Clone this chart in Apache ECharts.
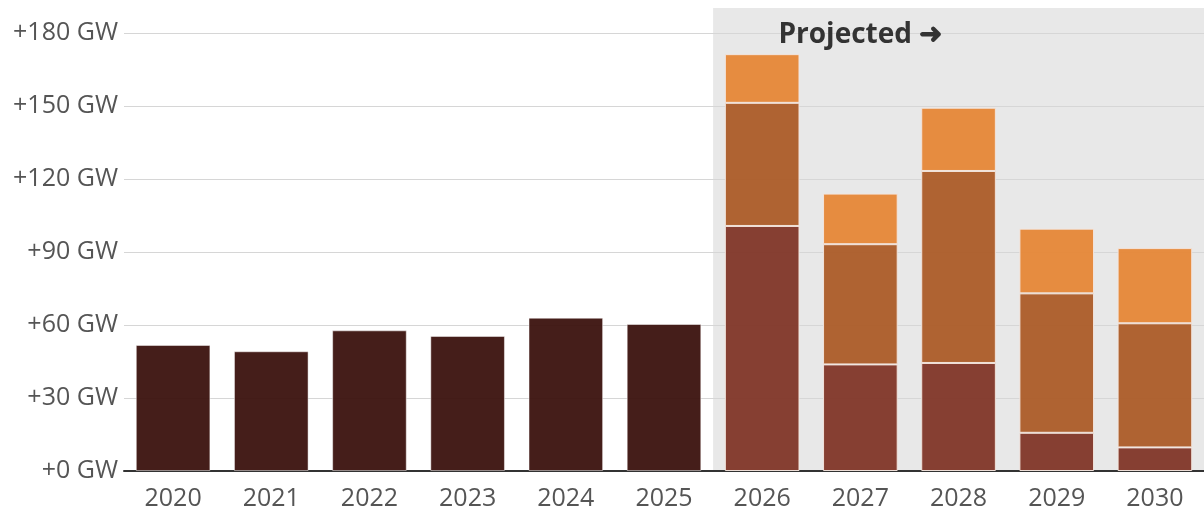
<!DOCTYPE html>
<html><head><meta charset="utf-8">
<script src="https://cdn.jsdelivr.net/npm/echarts@6/dist/echarts.min.js"></script>
<style>html,body{margin:0;padding:0;background:#fff}#c{width:1204px;height:514px}</style>
</head><body><div id="c"></div>
<script>
const categories = ['2020','2021','2022','2023','2024','2025','2026','2027','2028','2029','2030'];
const historical = [51.8, 49.2, 57.8, 55.5, 63.0, 60.4, '-', '-', '-', '-', '-'];
const projectedLow = ['-', '-', '-', '-', '-', '-', 100.7, 43.8, 44.4, 15.7, 9.7];
const projectedMid = ['-', '-', '-', '-', '-', '-', 50.6, 49.4, 78.9, 57.3, 51.0];
const projectedHigh = ['-', '-', '-', '-', '-', '-', 20.0, 20.8, 26.0, 26.6, 30.9];
const yMin = 0, yMax = 180, yInterval = 30;
const projectedLabel = 'Projected \u279C';
const projectedFirst = '2026';
const projectedLabelAt = '2027';

const FONT = '"Open Sans", "Noto Sans", sans-serif';
const chart = echarts.init(document.getElementById('c'), null, {renderer: 'canvas'});
const barStyle = (color, border) => ({color: color, opacity: 0.95, borderColor: border, borderWidth: 1});
chart.setOption({
  animation: false,
  grid: {left: 124, width: 1082, top: 33, height: 438, containLabel: false},
  xAxis: {
    type: 'category', data: categories,
    axisLine: {lineStyle: {color: '#333', width: 2}},
    axisTick: {alignWithLabel: true, length: 9, lineStyle: {color: '#333', width: 3}},
    axisLabel: {color: '#555', fontFamily: FONT, fontSize: 25, margin: 15}
  },
  yAxis: {
    type: 'value', min: yMin, max: yMax, interval: yInterval,
    axisLine: {show: false}, axisTick: {show: false},
    splitLine: {lineStyle: {color: '#d6d6d6', width: 1}},
    axisLabel: {color: '#555', fontFamily: FONT, fontSize: 25, margin: 6,
      formatter: v => '+' + v + ' GW'}
  },
  series: [
    {type: 'bar', stack: 's', data: historical, barWidth: '76%', itemStyle: barStyle('#3b120e', 'rgba(255,255,255,0.5)')},
    {type: 'bar', stack: 's', data: projectedLow, barWidth: '76%', itemStyle: barStyle('#813628', '#f3e6de')},
    {type: 'bar', stack: 's', data: projectedMid, barWidth: '76%', itemStyle: barStyle('#ac5c28', '#f3e6de')},
    {type: 'bar', stack: 's', data: projectedHigh, barWidth: '76%', itemStyle: barStyle('#e68737', '#f3e6de')}
  ]
});
const i0 = categories.indexOf(projectedFirst);
const xa = chart.convertToPixel({xAxisIndex: 0}, categories[i0 - 1]);
const xb = chart.convertToPixel({xAxisIndex: 0}, categories[i0]);
const xBoundary = (xa + xb) / 2;
const y0 = chart.convertToPixel({yAxisIndex: 0}, yMin);
const yTop = chart.convertToPixel({yAxisIndex: 0}, yMax);
const xLabel = chart.convertToPixel({xAxisIndex: 0}, projectedLabelAt);
chart.setOption({
  graphic: [
    {type: 'rect', z: -10, silent: true,
      shape: {x: xBoundary, y: 8, width: chart.getWidth() - xBoundary, height: y0 - 8},
      style: {fill: '#e8e8e8'}},
    {type: 'text', z: 10, silent: true, x: xLabel, y: yTop + 2,
      style: {text: projectedLabel, fill: '#333', font: 'bold 28px ' + FONT, align: 'center', verticalAlign: 'middle'}}
  ]
});
</script></body></html>
